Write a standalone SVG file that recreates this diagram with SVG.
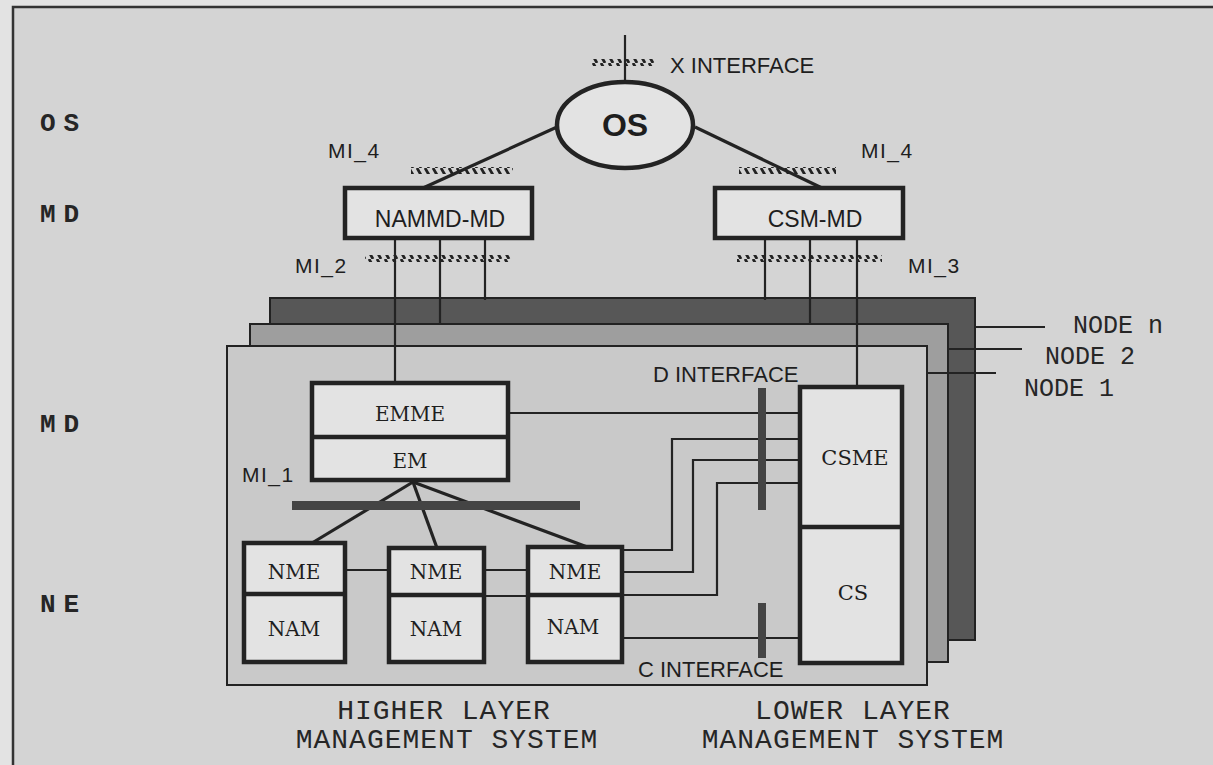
<svg xmlns="http://www.w3.org/2000/svg" width="1213" height="765" viewBox="0 0 1213 765">
  <defs>
    <pattern id="hatch" width="8" height="7" patternUnits="userSpaceOnUse">
      <path d="M1,0 L5,7" stroke="#222" stroke-width="2.8"/>
    </pattern>
    <style>
      .sans { font-family: "Liberation Sans", Arial, sans-serif; fill: #1e1e1e; }
      .mono { font-family: "Liberation Mono", "Courier New", monospace; fill: #262626; }
      .serif { font-family: "DejaVu Serif", "Liberation Serif", serif; fill: #1e1e1e; }
      .box { fill: #e3e3e3; stroke: #232323; stroke-width: 4.5; }
      .div { stroke: #232323; stroke-width: 4.5; }
      .ln { stroke: #232323; stroke-width: 2.2; fill: none; }
      .lnb { stroke: #232323; stroke-width: 3.2; fill: none; }
      .hatch { fill: url(#hatch); }
      .bar { fill: #444; }
      .lbl { font-size: 21px; letter-spacing: 1.5px; }
      .ifc { font-size: 22px; }
      .lvl { font-size: 26px; font-weight: bold; letter-spacing: 8px; }
    </style>
  </defs>

  <!-- background and frame -->
  <rect width="1213" height="765" fill="#e3e3e3"/>
  <rect x="13" y="7" width="1215" height="775" fill="#d4d4d4" stroke="#333" stroke-width="2.5"/>

  <!-- level labels -->
  <g id="levels">
    <text class="mono lvl" x="40" y="131">OS</text>
    <text class="mono lvl" x="40" y="222">MD</text>
    <text class="mono lvl" x="40" y="432">MD</text>
    <text class="mono lvl" x="40" y="612">NE</text>
  </g>

  <!-- node stack layers -->
  <g id="node-n">
    <rect x="270" y="298" width="705" height="342" fill="#575757" stroke="#222" stroke-width="2"/>
  </g>
  <g id="node-2">
    <rect x="250" y="324" width="698" height="338" fill="#9e9e9e" stroke="#222" stroke-width="2"/>
  </g>
  <g id="node-1">
    <rect x="227" y="346" width="700" height="339" fill="#c9c9c9" stroke="#222" stroke-width="2"/>
  </g>

  <!-- connectors -->
  <g id="connectors">
    <!-- X interface -->
    <line class="ln" x1="625" y1="35" x2="625" y2="83"/>
    <!-- OS to MDs -->
    <line class="lnb" x1="557" y1="127" x2="423" y2="188"/>
    <line class="lnb" x1="695" y1="127" x2="822" y2="188"/>
    <!-- NAMMD-MD down -->
    <line class="ln" x1="395" y1="238" x2="395" y2="383"/>
    <line class="ln" x1="440" y1="238" x2="440" y2="324"/>
    <line class="ln" x1="485" y1="238" x2="485" y2="300"/>
    <!-- CSM-MD down -->
    <line class="ln" x1="765" y1="238" x2="765" y2="300"/>
    <line class="ln" x1="810" y1="238" x2="810" y2="324"/>
    <line class="ln" x1="857" y1="238" x2="857" y2="387"/>
    <!-- node lines -->
    <line class="ln" x1="975" y1="327" x2="1045" y2="327"/>
    <line class="ln" x1="948" y1="349" x2="1022" y2="349"/>
    <line class="ln" x1="927" y1="373" x2="996" y2="373"/>
    <!-- EM to NMEs -->
    <line class="lnb" x1="413" y1="482" x2="312" y2="543"/>
    <line class="lnb" x1="413" y1="482" x2="437" y2="548"/>
    <line class="lnb" x1="413" y1="482" x2="590" y2="548"/>
    <!-- NME interconnects -->
    <line class="ln" x1="345" y1="570" x2="389" y2="570"/>
    <line class="ln" x1="484" y1="570" x2="528" y2="570"/>
    <line class="ln" x1="484" y1="596" x2="528" y2="596"/>
    <!-- D interface lines -->
    <line class="ln" x1="508" y1="413" x2="800" y2="413"/>
    <polyline class="ln" points="622,550 672,550 672,439 800,439"/>
    <polyline class="ln" points="622,572 693,572 693,460 800,460"/>
    <polyline class="ln" points="622,595 717,595 717,483 800,483"/>
    <!-- C interface line -->
    <line class="ln" x1="622" y1="638" x2="800" y2="638"/>
    <!-- interface markers -->
    <rect class="hatch" x="591" y="59" width="65" height="7"/>
    <rect class="hatch" x="411" y="167" width="102" height="7"/>
    <rect class="hatch" x="739" y="167" width="97" height="7"/>
    <rect class="hatch" x="365" y="255" width="147" height="7"/>
    <rect class="hatch" x="737" y="255" width="145" height="7"/>
    <rect class="bar" x="292" y="501" width="288" height="9"/>
    <rect class="bar" x="758" y="388" width="8" height="122"/>
    <rect class="bar" x="758" y="603" width="8" height="55"/>
  </g>

  <!-- interface labels -->
  <g id="labels">
    <text class="sans ifc" x="670" y="73">X INTERFACE</text>
    <text class="sans lbl" x="328" y="158">MI_4</text>
    <text class="sans lbl" x="861" y="158">MI_4</text>
    <text class="sans lbl" x="295" y="273">MI_2</text>
    <text class="sans lbl" x="908" y="273">MI_3</text>
    <text class="sans lbl" x="242" y="482">MI_1</text>
    <text class="sans ifc" x="653" y="382">D INTERFACE</text>
    <text class="sans ifc" x="638" y="677">C INTERFACE</text>
    <text class="mono" font-size="25" x="1073" y="333">NODE n</text>
    <text class="mono" font-size="25" x="1045" y="364">NODE 2</text>
    <text class="mono" font-size="25" x="1024" y="396">NODE 1</text>
    <text class="mono" font-size="28" letter-spacing="1" x="444" y="719" text-anchor="middle">HIGHER LAYER</text>
    <text class="mono" font-size="28" letter-spacing="1" x="447" y="748" text-anchor="middle">MANAGEMENT SYSTEM</text>
    <text class="mono" font-size="28" letter-spacing="1" x="853" y="719" text-anchor="middle">LOWER LAYER</text>
    <text class="mono" font-size="28" letter-spacing="1" x="853" y="748" text-anchor="middle">MANAGEMENT SYSTEM</text>
  </g>

  <!-- OS -->
  <g id="os">
    <ellipse cx="625" cy="125" rx="68" ry="43" fill="#e3e3e3" stroke="#232323" stroke-width="4.5"/>
    <text class="sans" x="625" y="136" font-size="32" font-weight="bold" text-anchor="middle">OS</text>
  </g>

  <g id="nammd-md">
    <rect class="box" x="345" y="188" width="187" height="50"/>
    <text class="sans" x="440" y="227" font-size="23" text-anchor="middle">NAMMD-MD</text>
  </g>

  <g id="csm-md">
    <rect class="box" x="715" y="188" width="188" height="50"/>
    <text class="sans" x="815" y="227" font-size="23" text-anchor="middle">CSM-MD</text>
  </g>

  <g id="emme-em">
    <rect class="box" x="312" y="383" width="196" height="97"/>
    <line class="div" x1="312" y1="437" x2="508" y2="437"/>
    <text class="serif" x="410" y="421" font-size="20" text-anchor="middle">EMME</text>
    <text class="serif" x="410" y="468" font-size="20" text-anchor="middle">EM</text>
  </g>

  <g id="nme-nam-1">
    <rect class="box" x="244" y="543" width="101" height="119"/>
    <line class="div" x1="244" y1="594" x2="345" y2="594"/>
    <text class="serif" x="294" y="579" font-size="20" text-anchor="middle">NME</text>
    <text class="serif" x="294" y="636" font-size="20" text-anchor="middle">NAM</text>
  </g>

  <g id="nme-nam-2">
    <rect class="box" x="389" y="548" width="95" height="114"/>
    <line class="div" x1="389" y1="595" x2="484" y2="595"/>
    <text class="serif" x="436" y="579" font-size="20" text-anchor="middle">NME</text>
    <text class="serif" x="436" y="636" font-size="20" text-anchor="middle">NAM</text>
  </g>

  <g id="nme-nam-3">
    <rect class="box" x="528" y="547" width="94" height="115"/>
    <line class="div" x1="528" y1="595" x2="622" y2="595"/>
    <text class="serif" x="575" y="579" font-size="20" text-anchor="middle">NME</text>
    <text class="serif" x="573" y="634" font-size="20" text-anchor="middle">NAM</text>
  </g>

  <g id="csme-cs">
    <rect class="box" x="800" y="387" width="102" height="276"/>
    <line class="div" x1="800" y1="527" x2="902" y2="527"/>
    <text class="serif" x="855" y="465" font-size="21" text-anchor="middle">CSME</text>
    <text class="serif" x="853" y="600" font-size="21" text-anchor="middle">CS</text>
  </g>
</svg>
